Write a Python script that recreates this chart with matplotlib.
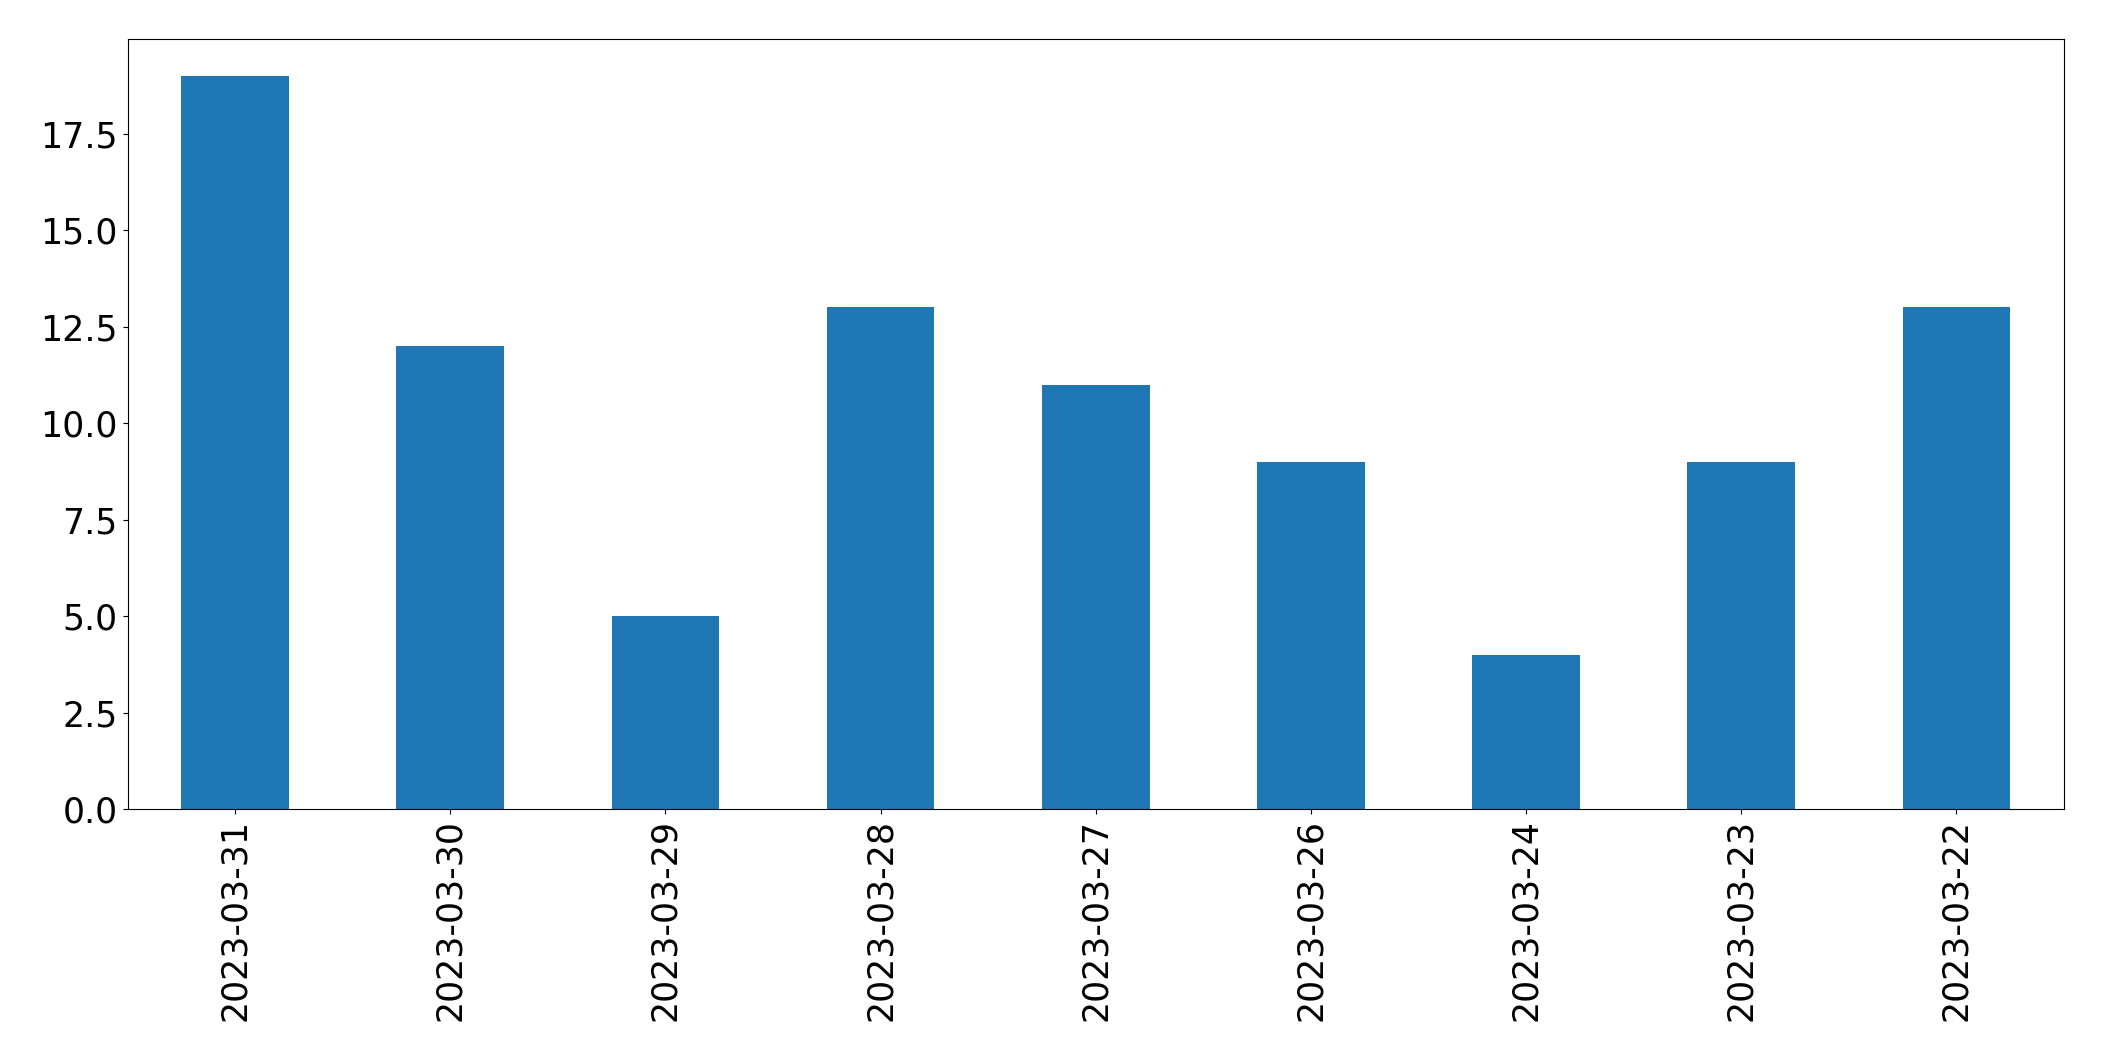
import pandas as pd
import matplotlib
matplotlib.use("Agg")
import matplotlib.pyplot as plt

# 数据
dates = ['2023-03-31', '2023-03-30', '2023-03-29', '2023-03-28', '2023-03-27',
         '2023-03-26', '2023-03-24', '2023-03-23', '2023-03-22']
counts = [19, 12, 5, 13, 11, 9, 4, 9, 13]

s = pd.Series(counts, index=dates)

fig = plt.figure(figsize=(21.04, 10.61), dpi=100)
ax = fig.add_axes([0.0606, 0.2375, 0.9204, 0.7255])
s.plot(kind='bar', ax=ax, color='#1f77b4')
ax.tick_params(axis='both', labelsize=25)
ax.set_xlabel('')

fig.savefig('out.png', dpi=100)
